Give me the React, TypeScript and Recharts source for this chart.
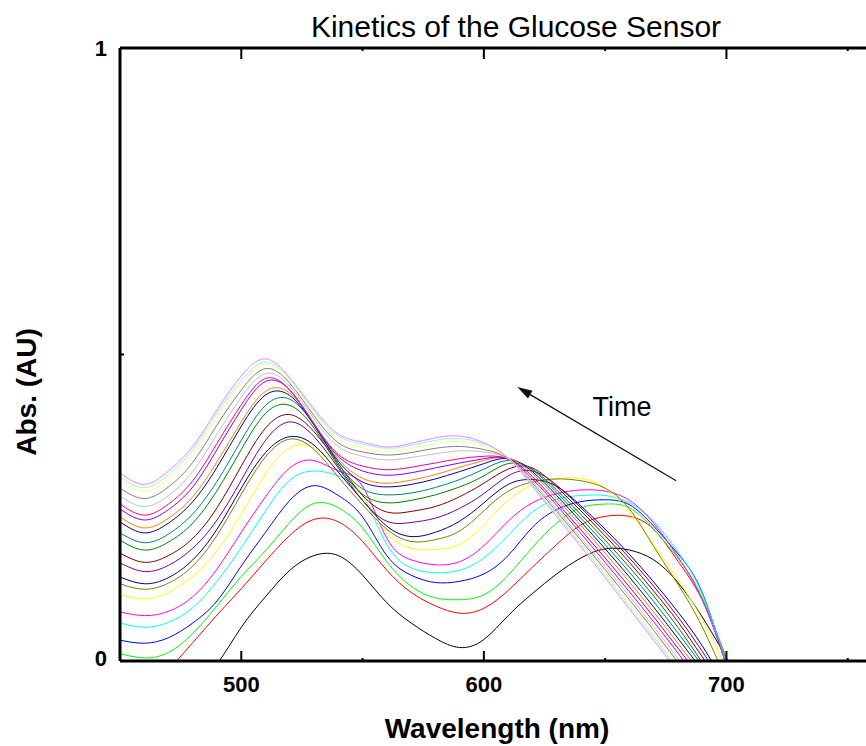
import { LineChart, Line, XAxis, YAxis, ReferenceLine, ReferenceDot, Label } from "recharts"

const FONT = '"Liberation Sans", Arial, sans-serif'

// wavelength grid (nm)
const wavelengths = [450, 460, 470, 480, 490, 500, 510, 520, 530, 540, 550, 560, 570, 580, 590, 600, 610, 620, 630, 640, 650, 660, 670, 680, 690, 700, 710, 720]

// absorbance spectra, first scan (black) to last (light magenta)
const black = [-0.2, -0.15, -0.1, -0.05, -0.005, 0.055, 0.105, 0.148, 0.172, 0.172, 0.14, 0.095, 0.062, 0.037, 0.022, 0.035, 0.074, 0.11, 0.142, 0.168, 0.183, 0.181, 0.165, 0.128, 0.072, 0.005, -0.07, -0.15]
const red = [-0.1, -0.06, -0.015, 0.03, 0.075, 0.118, 0.163, 0.205, 0.231, 0.227, 0.195, 0.148, 0.112, 0.09, 0.078, 0.086, 0.115, 0.153, 0.19, 0.222, 0.236, 0.236, 0.215, 0.163, 0.1, 0.004, -0.1, -0.2]
const green = [0.012, 0.005, 0.014, 0.045, 0.09, 0.138, 0.18, 0.226, 0.257, 0.25, 0.217, 0.162, 0.122, 0.103, 0.1, 0.108, 0.14, 0.185, 0.225, 0.25, 0.256, 0.25, 0.215, 0.168, 0.104, 0.002, -0.1, -0.2]
const blue = [0.034, 0.029, 0.038, 0.062, 0.098, 0.155, 0.21, 0.262, 0.286, 0.27, 0.235, 0.172, 0.14, 0.128, 0.13, 0.142, 0.172, 0.218, 0.247, 0.26, 0.263, 0.255, 0.22, 0.175, 0.112, -0.008, -0.12, -0.23]
const cyan = [0.062, 0.055, 0.063, 0.087, 0.13, 0.185, 0.245, 0.295, 0.31, 0.302, 0.27, 0.19, 0.152, 0.144, 0.148, 0.168, 0.205, 0.243, 0.264, 0.27, 0.27, 0.258, 0.228, 0.178, 0.11, -0.005, -0.12, -0.23]
const magenta = [0.08, 0.074, 0.081, 0.105, 0.15, 0.21, 0.268, 0.315, 0.327, 0.31, 0.285, 0.2, 0.165, 0.157, 0.162, 0.188, 0.228, 0.258, 0.273, 0.279, 0.277, 0.262, 0.225, 0.17, 0.1, -0.005, -0.11, -0.22]
const yellow = [0.109, 0.101, 0.112, 0.138, 0.18, 0.24, 0.305, 0.348, 0.348, 0.318, 0.27, 0.21, 0.184, 0.182, 0.19, 0.222, 0.262, 0.287, 0.297, 0.298, 0.282, 0.243, 0.19, 0.133, 0.068, -0.012, -0.09, -0.17]
const darkYellow = [0.126, 0.117, 0.127, 0.155, 0.205, 0.272, 0.333, 0.362, 0.345, 0.3, 0.255, 0.215, 0.195, 0.198, 0.212, 0.245, 0.277, 0.292, 0.297, 0.294, 0.282, 0.248, 0.187, 0.125, 0.056, -0.03, -0.11, -0.19]
const navy = [0.137, 0.126, 0.136, 0.165, 0.215, 0.282, 0.34, 0.366, 0.352, 0.308, 0.262, 0.22, 0.203, 0.21, 0.228, 0.258, 0.288, 0.296, 0.285, 0.253, 0.215, 0.174, 0.129, 0.08, 0.025, -0.04, -0.1, -0.16]
const purple = [0.16, 0.146, 0.156, 0.184, 0.23, 0.295, 0.36, 0.39, 0.366, 0.315, 0.262, 0.228, 0.226, 0.233, 0.249, 0.273, 0.302, 0.31, 0.287, 0.25, 0.21, 0.168, 0.122, 0.072, 0.016, -0.045, -0.105, -0.165]
const wine = [0.176, 0.161, 0.172, 0.2, 0.25, 0.318, 0.38, 0.402, 0.374, 0.322, 0.27, 0.243, 0.244, 0.252, 0.268, 0.29, 0.313, 0.315, 0.284, 0.245, 0.204, 0.161, 0.114, 0.064, 0.007, -0.05, -0.11, -0.17]
const olive = [0.197, 0.181, 0.194, 0.225, 0.278, 0.345, 0.404, 0.417, 0.38, 0.318, 0.272, 0.258, 0.262, 0.271, 0.284, 0.302, 0.322, 0.313, 0.279, 0.239, 0.197, 0.153, 0.106, 0.055, -0.002, -0.06, -0.12, -0.18]
const darkCyan = [0.209, 0.193, 0.207, 0.24, 0.293, 0.36, 0.417, 0.427, 0.385, 0.322, 0.281, 0.271, 0.274, 0.283, 0.296, 0.313, 0.327, 0.312, 0.275, 0.233, 0.19, 0.145, 0.097, 0.046, -0.007, -0.06, -0.115, -0.17]
const royal = [0.227, 0.209, 0.225, 0.26, 0.316, 0.383, 0.434, 0.433, 0.385, 0.326, 0.292, 0.284, 0.288, 0.297, 0.309, 0.322, 0.33, 0.309, 0.27, 0.227, 0.183, 0.137, 0.088, 0.037, -0.015, -0.068, -0.12, -0.173]
const orange = [0.235, 0.217, 0.233, 0.268, 0.325, 0.39, 0.44, 0.437, 0.387, 0.33, 0.298, 0.29, 0.295, 0.304, 0.316, 0.327, 0.331, 0.306, 0.265, 0.221, 0.176, 0.129, 0.08, 0.029, -0.023, -0.075, -0.127, -0.18]
const violet = [0.248, 0.23, 0.247, 0.284, 0.345, 0.41, 0.456, 0.442, 0.386, 0.334, 0.31, 0.303, 0.307, 0.315, 0.323, 0.33, 0.33, 0.301, 0.259, 0.214, 0.168, 0.121, 0.072, 0.021, -0.03, -0.081, -0.132, -0.183]
const pink = [0.256, 0.238, 0.256, 0.294, 0.355, 0.418, 0.461, 0.442, 0.387, 0.337, 0.318, 0.312, 0.316, 0.323, 0.33, 0.334, 0.329, 0.297, 0.254, 0.208, 0.161, 0.113, 0.064, 0.013, -0.04, -0.09, -0.14, -0.19]
const ltGray = [0.269, 0.252, 0.27, 0.309, 0.37, 0.43, 0.469, 0.448, 0.395, 0.35, 0.334, 0.328, 0.332, 0.338, 0.343, 0.341, 0.33, 0.293, 0.248, 0.201, 0.154, 0.106, 0.056, 0.004, -0.05, -0.1, -0.15, -0.2]
const gray = [0.282, 0.265, 0.284, 0.324, 0.385, 0.442, 0.477, 0.453, 0.4, 0.356, 0.341, 0.336, 0.34, 0.347, 0.35, 0.345, 0.33, 0.29, 0.244, 0.197, 0.149, 0.1, 0.05, -0.002, -0.052, -0.102, -0.152, -0.202]
const ltYellow = [0.294, 0.277, 0.297, 0.338, 0.398, 0.452, 0.484, 0.457, 0.405, 0.362, 0.348, 0.341, 0.347, 0.354, 0.358, 0.35, 0.331, 0.288, 0.241, 0.193, 0.144, 0.095, 0.044, -0.008, -0.06, -0.11, -0.16, -0.21]
const ltCyan = [0.3, 0.283, 0.304, 0.345, 0.405, 0.458, 0.488, 0.46, 0.408, 0.367, 0.354, 0.347, 0.352, 0.36, 0.363, 0.354, 0.332, 0.287, 0.239, 0.19, 0.14, 0.09, 0.039, -0.013, -0.065, -0.115, -0.165, -0.215]
const ltMagenta = [0.307, 0.288, 0.31, 0.35, 0.41, 0.465, 0.493, 0.462, 0.411, 0.37, 0.357, 0.349, 0.355, 0.364, 0.367, 0.356, 0.331, 0.285, 0.236, 0.186, 0.136, 0.085, 0.034, -0.018, -0.07, -0.12, -0.17, -0.22]

const series = [
  { key: "black", color: "#000000", values: black },
  { key: "red", color: "#ff0000", values: red },
  { key: "green", color: "#00ff00", values: green },
  { key: "blue", color: "#0000ff", values: blue },
  { key: "cyan", color: "#00ffff", values: cyan },
  { key: "magenta", color: "#ff00ff", values: magenta },
  { key: "yellow", color: "#ffff00", values: yellow },
  { key: "darkYellow", color: "#808000", values: darkYellow },
  { key: "navy", color: "#000080", values: navy },
  { key: "purple", color: "#800080", values: purple },
  { key: "wine", color: "#800000", values: wine },
  { key: "olive", color: "#008000", values: olive },
  { key: "darkCyan", color: "#008080", values: darkCyan },
  { key: "royal", color: "#0000a0", values: royal },
  { key: "orange", color: "#ff8000", values: orange },
  { key: "violet", color: "#8000ff", values: violet },
  { key: "pink", color: "#ff0080", values: pink },
  { key: "ltGray", color: "#c0c0c0", values: ltGray },
  { key: "gray", color: "#808080", values: gray },
  { key: "ltYellow", color: "#ffff80", values: ltYellow },
  { key: "ltCyan", color: "#80ffff", values: ltCyan },
  { key: "ltMagenta", color: "#ff80ff", values: ltMagenta },
]

const xTicks = [500, 550, 600, 650, 700, 750]
const xLabelled = [500, 600, 700]
const yTicks = [0, 0.5, 1]
const yLabelled = [0, 1]

// arrow and caption, in data units
const arrowFrom = { x: 679.3, y: 0.294 }
const arrowTo = { x: 613.8, y: 0.447 }
const timeAt = { x: 657, y: 0.4 }

const rows = wavelengths.map((wl, i) => {
  const row: Record<string, number> = { wl }
  series.forEach((s) => (row[s.key] = s.values[i]))
  return row
})

const BottomTick = ({ x, y, payload }: any) => {
  const major = xLabelled.includes(payload.value)
  return (
    <g>
      <line x1={x} x2={x} y1={y} y2={y - (major ? 10 : 3)} stroke="#000" strokeWidth={2} />
      {major && (
        <text x={x} y={y + 31} textAnchor="middle" fontSize={22} fontWeight="bold" fontFamily={FONT} fill="#000">
          {payload.value}
        </text>
      )}
    </g>
  )
}

const TopTick = ({ x, y, payload }: any) => {
  const major = xLabelled.includes(payload.value)
  return <line x1={x} x2={x} y1={y} y2={y + (major ? 11 : 3)} stroke="#000" strokeWidth={2} />
}

const LeftTick = ({ x, y, payload }: any) => {
  const labelled = yLabelled.includes(payload.value)
  return (
    <g>
      {!labelled && <line x1={x} x2={x + 4} y1={y} y2={y} stroke="#000" strokeWidth={2} />}
      {labelled && (
        <text x={x - 13} y={y + (payload.value === 1 ? 8 : 5)} textAnchor="end" fontSize={22} fontWeight="bold" fontFamily={FONT} fill="#000">
          {payload.value}
        </text>
      )}
    </g>
  )
}

const Arrow = ({ x1, y1, x2, y2 }: any) => {
  const len = Math.hypot(x2 - x1, y2 - y1)
  const ux = (x2 - x1) / len
  const uy = (y2 - y1) / len
  const bx = x2 - ux * 15
  const by = y2 - uy * 15
  return (
    <g>
      <line x1={x1} y1={y1} x2={bx} y2={by} stroke="#111" strokeWidth={1.2} />
      <polygon points={`${x2},${y2} ${bx - uy * 4.5},${by + ux * 4.5} ${bx + uy * 4.5},${by - ux * 4.5}`} fill="#111" />
    </g>
  )
}

const axisLine = { stroke: "#000", strokeWidth: 3 }

export default function App() {
  return (
    <div style={{ position: "absolute", left: 0, top: 0, width: 866, height: 746, overflow: "hidden", background: "#fff" }}>
      <LineChart width={1000} height={746} data={rows} margin={{ top: 18, right: 31, bottom: 0, left: 0 }}>
        <XAxis
          dataKey="wl"
          type="number"
          domain={[450, 800]}
          allowDataOverflow
          ticks={xTicks}
          interval={0}
          height={85}
          tickSize={0}
          tickMargin={0}
          tickLine={false}
          axisLine={axisLine}
          tick={BottomTick}
        >
          <Label
            content={() => (
              <text x={497} y={738} textAnchor="middle" fontSize={28} fontWeight="bold" fontFamily={FONT} fill="#000">
                Wavelength (nm)
              </text>
            )}
          />
        </XAxis>
        <XAxis
          xAxisId="top"
          orientation="top"
          dataKey="wl"
          type="number"
          domain={[450, 800]}
          allowDataOverflow
          ticks={xTicks}
          interval={0}
          height={30}
          tickSize={0}
          tickMargin={0}
          tickLine={false}
          axisLine={axisLine}
          tick={TopTick}
        >
          <Label
            content={() => (
              <text x={516} y={37} textAnchor="middle" fontSize={30} fontFamily={FONT} fill="#000">
                Kinetics of the Glucose Sensor
              </text>
            )}
          />
        </XAxis>
        <YAxis
          type="number"
          domain={[0, 1]}
          allowDataOverflow
          ticks={yTicks}
          interval={0}
          width={120}
          tickSize={0}
          tickMargin={0}
          tickLine={false}
          axisLine={axisLine}
          tick={LeftTick}
        >
          <Label
            content={() => (
              <text transform="rotate(-90)" x={-392} y={36} textAnchor="middle" fontSize={28} fontWeight="bold" fontFamily={FONT} fill="#000">
                Abs. (AU)
              </text>
            )}
          />
        </YAxis>
        {series.map((s) => (
          <Line
            key={s.key}
            type="natural"
            dataKey={s.key}
            stroke={s.color}
            strokeWidth={1}
            dot={false}
            activeDot={false}
            isAnimationActive={false}
          />
        ))}
        <ReferenceLine segment={[arrowFrom, arrowTo]} shape={Arrow} />
        <ReferenceDot
          x={timeAt.x}
          y={timeAt.y}
          r={0}
          shape={({ cx, cy }: any) => (
            <text x={cx} y={cy} textAnchor="middle" fontSize={27} fontFamily={FONT} fill="#000">
              Time
            </text>
          )}
        />
      </LineChart>
    </div>
  )
}
